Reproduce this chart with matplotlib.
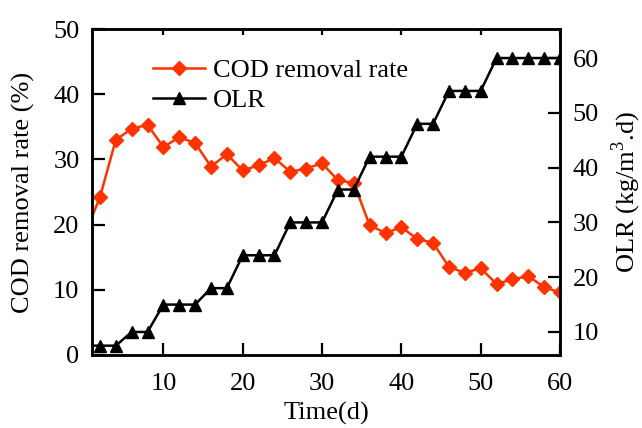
import matplotlib
matplotlib.use('Agg')
import matplotlib.pyplot as plt

plt.rcParams['font.family'] = ['Liberation Serif', 'DejaVu Serif']
plt.rcParams['mathtext.fontset'] = 'custom'
plt.rcParams['mathtext.rm'] = 'Liberation Serif'

# Data
days = [0, 2, 4, 6, 8, 10, 12, 14, 16, 18, 20, 22, 24, 26, 28, 30,
        32, 34, 36, 38, 40, 42, 44, 46, 48, 50, 52, 54, 56, 58, 60]
cod_removal = [18.2, 24.2, 33.0, 34.7, 35.3, 31.9, 33.4, 32.5, 28.9, 30.8, 28.3,
               29.1, 30.2, 28.1, 28.6, 29.4, 26.8, 26.4, 19.9, 18.7, 19.6,
               17.8, 17.2, 13.5, 12.6, 13.3, 10.9, 11.6, 12.1, 10.4, 9.6]
olr = [7.5, 7.5, 7.5, 10, 10, 15, 15, 15, 18, 18, 24, 24, 24, 30, 30, 30,
       36, 36, 42, 42, 42, 48, 48, 54, 54, 54, 60, 60, 60, 60, 60]

red = '#ff3300'
fs = 19

fig = plt.figure(figsize=(6.42, 4.28), dpi=100)
ax = fig.add_axes([0.1433, 0.1706, 0.7290, 0.7616])
ax2 = ax.twinx()

l1, = ax.plot(days, cod_removal, color=red, lw=1.8, marker='D', ms=7.5,
              label='COD removal rate')
l2, = ax2.plot(days, olr, color='black', lw=1.8, marker='^', ms=9,
               label='OLR')

ax.set_xlim(1, 60)
ax.set_ylim(0, 50)
ax2.set_ylim(5.8, 65.3)
ax.set_xticks([10, 20, 30, 40, 50, 60])
ax.set_yticks([0, 10, 20, 30, 40, 50])
ax2.set_yticks([10, 20, 30, 40, 50, 60])

ax.tick_params(axis='both', direction='in', length=9, width=1.6, labelsize=fs)
ax.tick_params(axis='x', top=True, labeltop=False, pad=13)
ax.tick_params(axis='y', pad=9)
ax2.tick_params(axis='y', direction='in', length=9, width=1.6, labelsize=fs,
                pad=9)
# shorter ticks on the top spine
for t in ax.xaxis.get_major_ticks():
    t.tick2line.set_markersize(4)
for a in (ax, ax2):
    for s in a.spines.values():
        s.set_linewidth(1.8)

ax.set_xlabel('Time(d)', fontsize=fs, labelpad=5)
ax.set_ylabel('COD removal rate (%)', fontsize=fs, labelpad=13)
ax2.set_ylabel('OLR (kg/m$^3$.d)', fontsize=fs, labelpad=8)

ax.legend([l1, l2], ['COD removal rate', 'OLR'], loc='upper left',
          bbox_to_anchor=(0.09, 0.965), frameon=False, fontsize=fs,
          handlelength=2.0, handletextpad=0.3, labelspacing=0.25,
          borderpad=0.2)

fig.savefig('out.png', dpi=100)
